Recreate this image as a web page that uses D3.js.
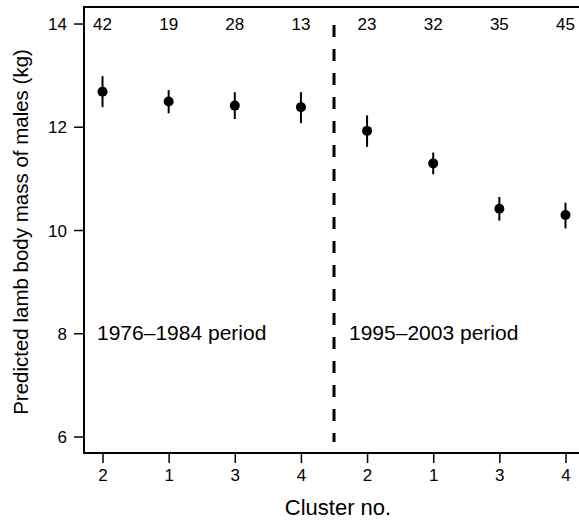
<!DOCTYPE html>
<html>
<head>
<meta charset="utf-8">
<script src="https://cdn.jsdelivr.net/npm/d3@7"></script>
<style>
  body { margin: 0; background: #fff; }
  svg text { font-family: "Liberation Sans", Arial, Helvetica, sans-serif; fill: #000; }
</style>
</head>
<body>
<div id="chart"></div>
<script>
"use strict";

// cluster labels along the x axis (two periods, four clusters each)
var clusters = ["2", "1", "3", "4", "2", "1", "3", "4"];
var sampleSizes = [42, 19, 28, 13, 23, 32, 35, 45];
var predicted = [12.68, 12.49, 12.41, 12.38, 11.92, 11.29, 10.41, 10.29];
var lower = [12.38, 12.26, 12.15, 12.07, 11.61, 11.08, 10.18, 10.03];
var upper = [12.98, 12.71, 12.67, 12.67, 12.22, 11.50, 10.64, 10.53];
var yTicks = [6, 8, 10, 12, 14];
var periods = ["1976\u20131984 period", "1995\u20132003 period"];

var width = 579, height = 522;
var margin = { top: 7, right: -5, bottom: 69, left: 84 };

var svg = d3.select("#chart").append("svg")
  .attr("width", width)
  .attr("height", height);

var x = d3.scaleLinear()
  .domain([-0.28, 7.28])
  .range([margin.left, width - margin.right]);

var y = d3.scaleLinear()
  .domain([5.68, 14.32])
  .range([height - margin.bottom, margin.top]);

// frame; the right side runs off the picture
svg.append("rect")
  .attr("x", margin.left)
  .attr("y", margin.top)
  .attr("width", x.range()[1] - margin.left)
  .attr("height", y.range()[0] - margin.top)
  .attr("fill", "none")
  .attr("stroke", "#000")
  .attr("stroke-width", 2);

// y axis
var yAxis = svg.append("g")
  .attr("transform", "translate(" + margin.left + ",0)")
  .call(d3.axisLeft(y).tickValues(yTicks).tickSize(10).tickPadding(7));
yAxis.select(".domain").remove();
yAxis.selectAll("line").attr("stroke-width", 1.5);
yAxis.selectAll("text").style("font-size", "17px").attr("dy", "0.36em");

// x axis
var xAxis = svg.append("g")
  .attr("transform", "translate(0," + y.range()[0] + ")")
  .call(d3.axisBottom(x)
    .tickValues(d3.range(clusters.length))
    .tickFormat(function(d) { return clusters[d]; })
    .tickSize(10).tickPadding(6));
xAxis.select(".domain").remove();
xAxis.selectAll("line").attr("stroke-width", 1.5);
xAxis.selectAll("text").style("font-size", "17px");

// axis titles
svg.append("text")
  .attr("x", 338)
  .attr("y", 515)
  .attr("text-anchor", "middle")
  .style("font-size", "22px")
  .text("Cluster no.");

svg.append("text")
  .attr("transform", "translate(28,232) rotate(-90)")
  .attr("text-anchor", "middle")
  .style("font-size", "20.5px")
  .text("Predicted lamb body mass of males (kg)");

// divider between the two periods
svg.append("line")
  .attr("x1", x(3.5)).attr("x2", x(3.5))
  .attr("y1", 25).attr("y2", 442)
  .attr("stroke", "#000")
  .attr("stroke-width", 3)
  .attr("stroke-dasharray", "12,12");

// period labels
svg.selectAll(".period")
  .data(periods)
  .enter().append("text")
  .attr("class", "period")
  .attr("x", function(d, i) { return i === 0 ? 97 : x(3.5) + 15; })
  .attr("y", 340)
  .style("font-size", "21px")
  .text(function(d) { return d; });

// sample sizes along the top
svg.selectAll(".n")
  .data(sampleSizes)
  .enter().append("text")
  .attr("class", "n")
  .attr("x", function(d, i) { return x(i); })
  .attr("y", 29.5)
  .attr("text-anchor", "middle")
  .style("font-size", "17px")
  .text(function(d) { return d; });

// error bars
svg.selectAll(".err")
  .data(predicted)
  .enter().append("line")
  .attr("class", "err")
  .attr("x1", function(d, i) { return x(i); })
  .attr("x2", function(d, i) { return x(i); })
  .attr("y1", function(d, i) { return y(lower[i]); })
  .attr("y2", function(d, i) { return y(upper[i]); })
  .attr("stroke", "#000")
  .attr("stroke-width", 2);

// points
svg.selectAll(".pt")
  .data(predicted)
  .enter().append("circle")
  .attr("class", "pt")
  .attr("cx", function(d, i) { return x(i); })
  .attr("cy", function(d) { return y(d); })
  .attr("r", 5)
  .attr("fill", "#000");
</script>
</body>
</html>
